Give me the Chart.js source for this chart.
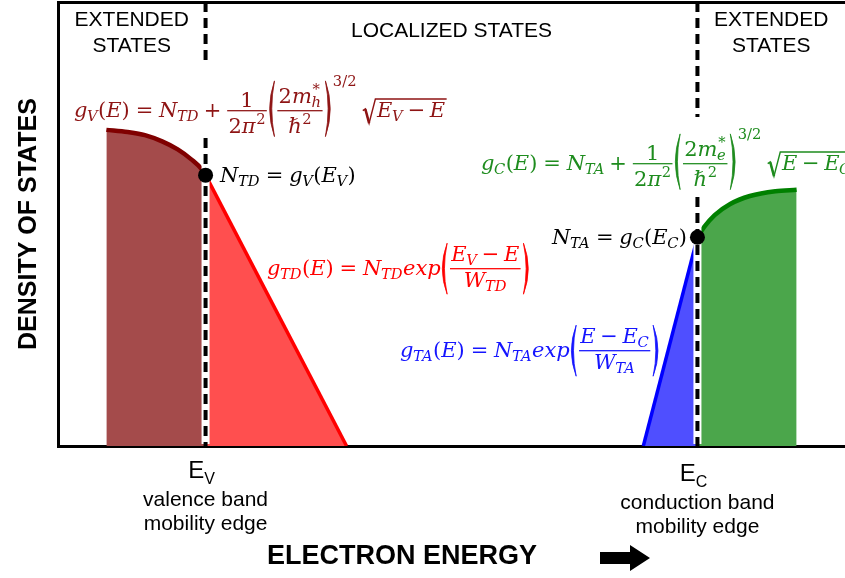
<!DOCTYPE html>
<html>
<head>
<meta charset="utf-8">
<script src="https://cdn.jsdelivr.net/npm/chart.js@4.4.1/dist/chart.umd.min.js"></script>
<style>
  html, body { margin: 0; padding: 0; background: #fff; }
</style>
</head>
<body>
<canvas id="dos" width="845" height="578"></canvas>
<script>
// energy axis in arbitrary units: E_V = 0, E_C = 6
const E_V = 0;
const E_C = 6;
const energyRange = [-1.8, 7.8];
const dosRange = [0, 10];

// valence band (extended states)
const valenceE = [-1.21, -0.95, -0.74, -0.53, -0.34, -0.17, -0.04, 0];
const valenceG = [7.12, 7.07, 7.00, 6.86, 6.68, 6.45, 6.22, 6.10];
// donor-like tail g_TD
const tailTDE = [0, 1.72];
const tailTDG = [6.10, 0];
// acceptor-like tail g_TA
const tailTAE = [5.34, 6];
const tailTAG = [0, 4.70];
// conduction band (extended states)
const conductionE = [6, 6.09, 6.21, 6.40, 6.64, 6.95, 7.21];
const conductionG = [4.70, 4.95, 5.20, 5.45, 5.63, 5.74, 5.77];
// mobility edge points N_TD, N_TA
const edgeE = [E_V, E_C];
const edgeG = [6.10, 4.70];

const SANS = '"Liberation Sans", Arial, sans-serif';
const MATH = '"DejaVu Serif", "Liberation Serif", serif';
const S = 21;

const pts = (xs, ys) => xs.map((x, i) => ({ x, y: ys[i] }));

/** tiny math layout helpers */
const T = v => ({ k: 't', v });
const U = v => ({ k: 't', v, up: true });
const Sb = (b, sub, sup) => ({ k: 'ss', b, sub, sup });
const Fr = (num, den) => ({ k: 'fr', num, den });
const Pr = (body, sup) => ({ k: 'pr', body, sup });
const Sq = body => ({ k: 'sq', body });
const Sp = w => ({ k: 'sp', w });
const EQ = [Sp(0.28), U('='), Sp(0.28)];
const PLUS = [Sp(0.22), U('+'), Sp(0.22)];
const MINUS = [Sp(0.22), U('\u2212'), Sp(0.22)];
const ARG_E = [U('('), T('E'), U(')')];

const equations = [
  {
    color: '#8E1414', x: 74, y: 117,
    row: [Sb('g', 'V'), ...ARG_E, ...EQ, Sb('N', 'TD'), ...PLUS,
      Fr([U('1')], [U('2'), Sb('π', null, '2')]),
      Pr([Fr([U('2'), Sb('m', 'h', '*')], [Sb('ℏ', null, '2')])], '3/2'),
      Sp(0.25), Sq([Sb('E', 'V'), ...MINUS, T('E')])]
  },
  {
    color: '#1E8C1E', x: 481, y: 170,
    row: [Sb('g', 'C'), ...ARG_E, ...EQ, Sb('N', 'TA'), ...PLUS,
      Fr([U('1')], [U('2'), Sb('π', null, '2')]),
      Pr([Fr([U('2'), Sb('m', 'e', '*')], [Sb('ℏ', null, '2')])], '3/2'),
      Sp(0.25), Sq([T('E'), ...MINUS, Sb('E', 'C')])]
  },
  {
    color: '#FF0000', x: 267, y: 275,
    row: [Sb('g', 'TD'), ...ARG_E, ...EQ, Sb('N', 'TD'), T('exp'),
      Pr([Fr([Sb('E', 'V'), ...MINUS, T('E')], [Sb('W', 'TD')])])]
  },
  {
    color: '#1515FF', x: 400, y: 357,
    row: [Sb('g', 'TA'), ...ARG_E, ...EQ, Sb('N', 'TA'), T('exp'),
      Pr([Fr([T('E'), ...MINUS, Sb('E', 'C')], [Sb('W', 'TA')])])]
  },
  {
    color: '#000', x: 220, y: 182,
    row: [Sb('N', 'TD'), ...EQ, Sb('g', 'V'), U('('), Sb('E', 'V'), U(')')]
  },
  {
    color: '#000', right: 687, y: 244,
    row: [Sb('N', 'TA'), ...EQ, Sb('g', 'C'), U('('), Sb('E', 'C'), U(')')]
  }
];

function textW(ctx, v, size, up) {
  ctx.font = `${up ? '' : 'italic '}${size}px ${MATH}`;
  return ctx.measureText(v).width;
}

function paren(ctx, x, top, bot, pw, right) {
  const mid = (top + bot) / 2;
  const th = 0.1 * S;
  const end = right ? x + 0.2 * pw : x + 0.8 * pw;
  const c = right ? x + 1.4 * pw : x - 0.4 * pw;
  const ci = right ? c - 2 * th : c + 2 * th;
  ctx.beginPath();
  ctx.moveTo(end, top);
  ctx.quadraticCurveTo(c, mid, end, bot);
  ctx.quadraticCurveTo(ci, mid, end, top);
  ctx.fill();
  ctx.lineWidth = 0.8;
  ctx.stroke();
}

function layRow(ctx, row, x, y, draw) {
  let w = 0, a = 0.72 * S, d = 0.05 * S;
  row.forEach(n => {
    const m = layNode(ctx, n, x + w, y, draw);
    w += m.w; a = Math.max(a, m.a); d = Math.max(d, m.d);
  });
  return { w, a, d };
}

function layNode(ctx, n, x, y, draw) {
  const s2 = 0.7 * S;
  switch (n.k) {
    case 'sp':
      return { w: n.w * S, a: 0, d: 0 };
    case 't': {
      const w = textW(ctx, n.v, S, n.up);
      if (draw) ctx.fillText(n.v, x, y);
      return { w, a: 0.72 * S, d: /[gpqy]/.test(n.v) ? 0.22 * S : 0.05 * S };
    }
    case 'ss': {
      const bw = textW(ctx, n.b, S, false);
      if (draw) ctx.fillText(n.b, x, y);
      let extra = 0, a = 0.72 * S, d = /[gpqy]/.test(n.b) ? 0.22 * S : 0.05 * S;
      if (n.sup) {
        const w = textW(ctx, n.sup, s2, true);
        if (draw) ctx.fillText(n.sup, x + bw + 0.03 * S, y - 0.42 * S);
        extra = Math.max(extra, w + 0.03 * S);
        a = Math.max(a, 0.42 * S + 0.72 * s2);
      }
      if (n.sub) {
        const w = textW(ctx, n.sub, s2, false);
        if (draw) ctx.fillText(n.sub, x + bw - 0.02 * S, y + 0.2 * S);
        extra = Math.max(extra, w);
        d = Math.max(d, 0.2 * S + 0.05 * s2);
      }
      return { w: bw + extra, a, d };
    }
    case 'fr': {
      const mn = layRow(ctx, n.num, 0, 0, false);
      const md = layRow(ctx, n.den, 0, 0, false);
      const w = Math.max(mn.w, md.w) + 0.24 * S;
      const axis = y - 0.3 * S;
      const nb = axis - 0.14 * S - mn.d;
      const db = axis + 0.14 * S + md.a;
      if (draw) {
        layRow(ctx, n.num, x + (w - mn.w) / 2, nb, true);
        layRow(ctx, n.den, x + (w - md.w) / 2, db, true);
        ctx.fillRect(x + 0.06 * S, axis - 0.03 * S, w - 0.12 * S, 0.06 * S);
      }
      return { w, a: y - (nb - mn.a), d: db + md.d - y };
    }
    case 'pr': {
      const m = layRow(ctx, n.body, 0, y, false);
      const top = y - m.a - 0.12 * S, bot = y + m.d + 0.12 * S;
      const pw = 0.38 * S;
      let w = pw * 2 + m.w;
      if (draw) {
        paren(ctx, x, top, bot, pw, false);
        layRow(ctx, n.body, x + pw, y, true);
        paren(ctx, x + pw + m.w, top, bot, pw, true);
      }
      let a = y - top;
      if (n.sup) {
        const sw = textW(ctx, n.sup, s2, true);
        if (draw) ctx.fillText(n.sup, x + w + 0.05 * S, top + 0.25 * S);
        w += sw + 0.08 * S;
      }
      return { w, a, d: bot - y };
    }
    case 'sq': {
      const m = layRow(ctx, n.body, 0, y, false);
      const top = y - m.a - 0.14 * S, bot = y + m.d + 0.06 * S;
      const rw = 0.62 * S;
      if (draw) {
        ctx.save();
        ctx.lineJoin = 'miter';
        ctx.lineWidth = 0.07 * S;
        ctx.beginPath();
        ctx.moveTo(x + 0.02 * S, y - 0.3 * S);
        ctx.lineTo(x + 0.14 * S, y - 0.38 * S);
        ctx.lineTo(x + 0.32 * S, bot);
        ctx.lineTo(x + rw, top);
        ctx.lineTo(x + rw + m.w + 0.15 * S, top);
        ctx.stroke();
        ctx.lineWidth = 0.12 * S;
        ctx.beginPath();
        ctx.moveTo(x + 0.14 * S, y - 0.38 * S);
        ctx.lineTo(x + 0.32 * S, bot);
        ctx.stroke();
        ctx.restore();
        layRow(ctx, n.body, x + rw + 0.08 * S, y, true);
      }
      return { w: rw + m.w + 0.2 * S, a: y - top, d: bot - y };
    }
  }
  return { w: 0, a: 0, d: 0 };
}

/** dashed mobility edges, gaps left where equations cross */
const edgeGaps = [[60, 138], [117, 197]];

function drawMobilityEdges(chart) {
  const { ctx, chartArea: { top, bottom } } = chart;
  const xs = chart.scales.x;
  [E_V, E_C].forEach((e, i) => {
    const px = xs.getPixelForValue(e);
    const [g0, g1] = edgeGaps[i];
    ctx.save();
    ctx.strokeStyle = '#fff';
    ctx.lineWidth = 8;
    ctx.beginPath(); ctx.moveTo(px, g1); ctx.lineTo(px, bottom - 2); ctx.stroke();
    ctx.strokeStyle = '#000';
    ctx.lineWidth = 4;
    ctx.setLineDash([10, 6]);
    ctx.beginPath(); ctx.moveTo(px, top); ctx.lineTo(px, g0); ctx.stroke();
    ctx.beginPath(); ctx.moveTo(px, g1); ctx.lineTo(px, bottom); ctx.stroke();
    ctx.restore();
  });
}

const edgeLabels = [
  { e: E_V, sub: 'V', lines: ['valence band', 'mobility edge'], dy: 0 },
  { e: E_C, sub: 'C', lines: ['conduction band', 'mobility edge'], dy: 3 }
];

function drawTexts(chart) {
  const { ctx, chartArea } = chart;
  const xs = chart.scales.x;
  const pv = xs.getPixelForValue(E_V), pc = xs.getPixelForValue(E_C);
  ctx.save();
  ctx.fillStyle = '#000';

  // region labels
  ctx.font = `21px ${SANS}`;
  ctx.textAlign = 'center';
  ctx.textBaseline = 'middle';
  [[(chartArea.left + pv) / 2, ['EXTENDED', 'STATES']],
   [(pc + chartArea.right) / 2, ['EXTENDED', 'STATES']]].forEach(([cx, lines]) => {
    lines.forEach((t, i) => ctx.fillText(t, cx, 20 + i * 26));
  });
  ctx.fillText('LOCALIZED STATES', (pv + pc) / 2, 31);

  // mobility edge labels under the axis
  edgeLabels.forEach(l => {
    const cx = xs.getPixelForValue(l.e);
    ctx.textAlign = 'left';
    ctx.textBaseline = 'alphabetic';
    ctx.font = `24px ${SANS}`;
    const we = ctx.measureText('E').width;
    ctx.font = `16px ${SANS}`;
    const ws = ctx.measureText(l.sub).width;
    const x0 = cx - (we + ws) / 2 - 4;
    ctx.font = `24px ${SANS}`;
    ctx.fillText('E', x0, 478 + l.dy);
    ctx.font = `16px ${SANS}`;
    ctx.fillText(l.sub, x0 + we, 484 + l.dy);
    ctx.textAlign = 'center';
    ctx.textBaseline = 'middle';
    ctx.font = `21px ${SANS}`;
    l.lines.forEach((t, i) => ctx.fillText(t, cx, 500 + l.dy + i * 24));
  });

  // x axis title and arrow
  ctx.font = `bold 27px ${SANS}`;
  ctx.textAlign = 'center';
  ctx.textBaseline = 'middle';
  ctx.fillText('ELECTRON ENERGY', 402, 557);
  ctx.beginPath();
  ctx.moveTo(600, 552); ctx.lineTo(630, 552); ctx.lineTo(630, 545);
  ctx.lineTo(650, 558); ctx.lineTo(630, 571); ctx.lineTo(630, 564);
  ctx.lineTo(600, 564); ctx.closePath();
  ctx.fill();

  // equations
  ctx.textAlign = 'left';
  ctx.textBaseline = 'alphabetic';
  equations.forEach(eq => {
    ctx.fillStyle = eq.color;
    ctx.strokeStyle = eq.color;
    let x = eq.x;
    if (eq.right !== undefined) x = eq.right - layRow(ctx, eq.row, 0, eq.y, false).w;
    layRow(ctx, eq.row, x, eq.y, true);
  });
  ctx.restore();
}

const decorations = {
  id: 'decorations',
  beforeDatasetDraw(chart, args) {
    if (args.index === 0) drawMobilityEdges(chart);
  },
  afterDraw(chart) {
    drawTexts(chart);
  }
};

const hiddenAxis = {
  type: 'linear',
  ticks: { display: false },
  grid: { display: false, drawTicks: false },
  border: { display: true, width: 3, color: '#000' }
};

new Chart(document.getElementById('dos'), {
  type: 'line',
  data: {
    datasets: [
      {
        data: pts(edgeE, edgeG), showLine: false,
        pointRadius: 7.5, pointBackgroundColor: '#000', pointBorderWidth: 0
      },
      {
        data: pts(valenceE, valenceG), borderColor: '#800000', borderWidth: 4.5,
        backgroundColor: '#A44B4B', fill: 'origin', cubicInterpolationMode: 'monotone', pointRadius: 0
      },
      {
        data: pts(tailTDE, tailTDG), borderColor: '#FF0000', borderWidth: 3.5,
        backgroundColor: '#FF4F4F', fill: 'origin', pointRadius: 0
      },
      {
        data: pts(tailTAE, tailTAG), borderColor: '#0000FF', borderWidth: 3.5,
        backgroundColor: '#4F4FFF', fill: 'origin', pointRadius: 0
      },
      {
        data: pts(conductionE, conductionG), borderColor: '#008000', borderWidth: 4.5,
        backgroundColor: '#4BA64B', fill: 'origin', cubicInterpolationMode: 'monotone', pointRadius: 0
      }
    ]
  },
  options: {
    responsive: false,
    animation: false,
    events: [],
    layout: { padding: 0, autoPadding: false },
    plugins: { legend: { display: false }, tooltip: { enabled: false } },
    scales: {
      x: {
        ...hiddenAxis, position: 'bottom', min: energyRange[0], max: energyRange[1],
        afterFit: s => { s.height = 132; }
      },
      xTop: {
        ...hiddenAxis, position: 'top', min: energyRange[0], max: energyRange[1],
        afterFit: s => { s.height = 2; }
      },
      y: {
        ...hiddenAxis, min: dosRange[0], max: dosRange[1],
        title: {
          display: true, text: 'DENSITY OF STATES', color: '#000',
          font: { family: SANS, size: 25, weight: 'bold' },
          padding: { top: 14, bottom: 0 }
        },
        afterFit: s => { s.width = 58; }
      }
    }
  },
  plugins: [decorations]
});
</script>
</body>
</html>
